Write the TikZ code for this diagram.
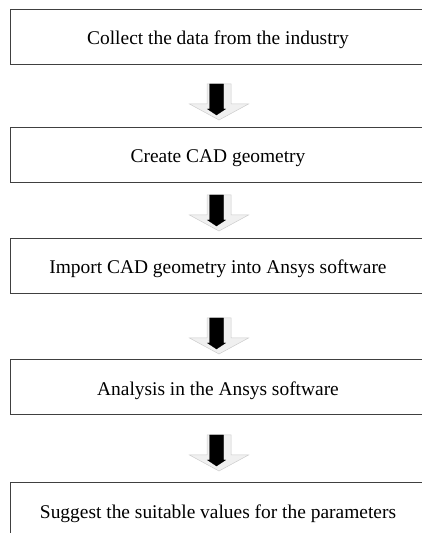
\documentclass[tikz,border=0pt]{standalone}
\usepackage{fontspec}
\setmainfont{Liberation Serif}
\tikzset{
  stepbox/.style={draw=black!75,line width=0.8bp,rectangle,minimum width=416bp,minimum height=55bp,inner sep=0pt,text height=17bp,text depth=0bp,font=\fontsize{19.5}{23}\selectfont},
  shadearrow/.style={fill=gray!12,draw=gray!40,line width=0.5bp},
  solidarrow/.style={fill=black,draw=black,line width=0.4bp},
}
% block arrow, top centre at (#1,#2)
\newcommand{\flowarrow}[2]{%
  \begin{scope}[shift={(#1bp,#2bp)}]
    \draw [shadearrow] (-12bp,0bp) -- (12bp,0bp) -- (12bp,-20bp) -- (29.5bp,-20bp)
      -- (0bp,-36bp) -- (-29.5bp,-20bp) -- (-12bp,-20bp) -- cycle;
    \draw [solidarrow] (-9.5bp,0bp) -- (4.5bp,0bp) -- (4.5bp,-25bp) -- (6.5bp,-25bp)
      -- (-2.5bp,-31bp) -- (-11.5bp,-25bp) -- (-9.5bp,-25bp) -- cycle;
  \end{scope}}
\begin{document}
\begin{tikzpicture}[line join=miter]
    \useasboundingbox (0bp,0bp) rectangle (422bp,533bp);
    \clip (0bp,0bp) rectangle (422bp,533bp);
    %%
    \node (collect) at (218bp,496.5bp) [stepbox] {Collect the data from the industry};
    \node (cad) at (218bp,378.5bp) [stepbox] {Create CAD geometry};
    \node (import) at (218bp,267.5bp) [stepbox] {Import CAD geometry into Ansys software};
    \node (analysis) at (218bp,146bp) [stepbox] {Analysis in the Ansys software};
    \node (suggest) at (218bp,23.5bp) [stepbox] {Suggest the suitable values for the parameters};
    %
    \flowarrow{219}{449}
    \flowarrow{219}{338}
    \flowarrow{219}{215}
    \flowarrow{219}{98}
    %
\end{tikzpicture}
\end{document}
